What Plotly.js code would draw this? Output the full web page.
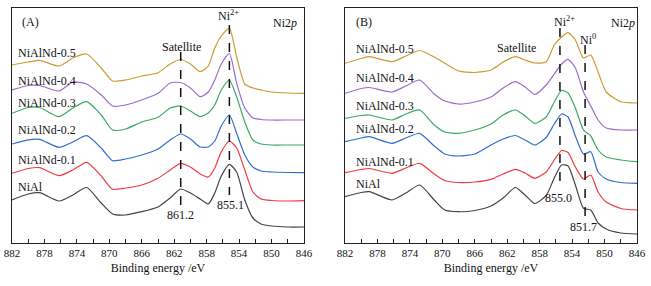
<!DOCTYPE html>
<html><head><meta charset="utf-8">
<script src="https://cdn.plot.ly/plotly-3.0.1.min.js"></script>
<style>body{margin:0;background:#fff}#c{width:651px;height:286px}</style>
</head><body><div id="c"></div>
<script>
// Panel A energies (eV)
const energyA = [882,880,878.6,876.2,874.5,872.8,871,869.6,868,866,864,862.5,861.2,860,858.8,857.8,857,856.2,855.2,854.3,853.3,852.3,851.3,850,848,846];
const A_NiAl   = [43,49,50.3,42,48,55.5,40,29,28,31.3,36,45,54,50,44,39,50,67,78.7,71,43,25,19,17,16,16];
const A_Nd01   = [69.7,74.5,75.3,67.3,73,80.7,67,53.7,55,58,64.7,73,79.7,76,69,66,75,91,102,95,73,51,44,42.5,42,42.3];
const A_Nd02   = [99,103.2,103.7,95.7,101,107.3,95,82.3,84,88,94,103,109,104,96,96,102,117,128,109.7,88,76,72,71,70.5,70.3];
const A_Nd03   = [129.7,135.5,135.5,126.3,135,141.3,128,113,114,121,125.7,135,137,132,126.3,130,138,153,163,146,121,103,99,98,98,98];
const A_Nd04   = [153,157.5,157.5,152,161,159,148,137,138,143,149.7,160,160.5,155,146.3,151,163,179,189.5,159.7,135,125,123.5,123,123,123];
const A_Nd05   = [178,181,182.7,177,185,189,175,162,163,167,170.3,179,183.5,179,171.3,177,195,207,214.7,186,159,155,153,151,150,149.7];

// Panel B energies (eV)
const energyB = [882,880,879,876.2,874.5,872.8,871,869.7,868,866,864,862.5,861,859.8,858.6,857.2,856.2,855.3,854.5,853.6,852.6,851.7,850.8,849.8,848,846];
const B_NiAl   = [46.3,50.5,51.3,43,50,58,43,33,31.3,32.5,37,45,55.5,48,39.5,47.5,65,78,77,58,34.7,33,20,14,10,9];
const B_Nd01   = [70.3,73.5,74.5,69.7,75,79.7,69,62.5,60.5,61,63.7,69,73.7,70,64.7,71,83,92.5,90.5,76,64,68,51,41,34.5,33];
const B_Nd02   = [101.3,105,106.3,99.7,105,109.7,97,89,87,89,98,104,107.5,103,98,105.5,119,129,126,107,89,91.3,71,64,60.5,59.7];
const B_Nd03   = [124.7,127.5,128,123,129,133,118,111,109.7,113,119,128,133,127,119.7,126,141,152.5,150,135,113,107,93,86,83,81.3];
const B_Nd04   = [149.7,154.5,155.5,151,157,163,149,142,139,141,146,155,161.3,156,148.5,158,169,179,183.7,175,151,137,123,115,113,113];
const B_Nd05   = [179.7,184.5,186.3,181.3,187,192.5,186,179.7,172,170.5,173,181,186.3,183,180,181,198,206,210.3,203,185,188,171,151,141.3,140];

const seriesNames = ['NiAl','NiAlNd-0.1','NiAlNd-0.2','NiAlNd-0.3','NiAlNd-0.4','NiAlNd-0.5'];
const colors = ['#444444','#ef3b3f','#2f6fcc','#3aa862','#9a6bc9','#cc9a33'];
const tickVals = [882,878,874,870,866,862,858,854,850,846];

const FONT = 'Liberation Serif, Times New Roman, serif';
const dataA = [A_NiAl,A_Nd01,A_Nd02,A_Nd03,A_Nd04,A_Nd05];
const dataB = [B_NiAl,B_Nd01,B_Nd02,B_Nd03,B_Nd04,B_Nd05];
const traces = [];
dataA.forEach((ys,i)=>traces.push({x:energyA,y:ys,xaxis:'x',yaxis:'y',mode:'lines',name:seriesNames[i],
  line:{color:colors[i],width:1.2,shape:'spline',smoothing:0.6},showlegend:false,hoverinfo:'skip'}));
dataB.forEach((ys,i)=>traces.push({x:energyB,y:ys,xaxis:'x2',yaxis:'y2',mode:'lines',name:seriesNames[i],
  line:{color:colors[i],width:1.2,shape:'spline',smoothing:0.6},showlegend:false,hoverinfo:'skip'}));

function xax(domain, anchor){
  return {domain:domain, anchor:anchor, range:[882,846], showgrid:false, zeroline:false,
    showline:true, mirror:true, linecolor:'#222', linewidth:1,
    ticks:'inside', ticklen:4, tickcolor:'#222', tickvals:tickVals, ticktext:tickVals.map(String),
    minor:{tickvals:[880,876,872,868,864,860,856,852,848], ticks:'inside', ticklen:4, tickcolor:'#222'},
    tickfont:{family:FONT,size:11,color:'#111'},
    title:{text:'Binding energy /eV', font:{family:FONT,size:12,color:'#111'}, standoff:5}};
}
function yax(anchor){
  return {domain:[0,1], anchor:anchor, range:[0,235], showgrid:false, zeroline:false,
    showline:true, mirror:true, linecolor:'#222', linewidth:1, ticks:'', showticklabels:false};
}

const labelYA = [56.3,83,113,140,162,190];
const labelYB = [58.7,81.3,113.7,137,164.7,193.7];
const ann = [];
function txt(xref,yref,x,y,t,xanchor){ ann.push({xref:xref,yref:yref,x:x,y:y,text:t,showarrow:false,
  xanchor:xanchor||'center',yanchor:'middle',font:{family:FONT,size:12,color:'#111'}}); }
seriesNames.forEach((n,i)=>{ txt('x','y',881.5,labelYA[i],n,'left'); txt('x2','y2',880.85,labelYB[i],n,'left'); });
txt('x','y',879.66,221,'(A)'); txt('x2','y2',879.66,221.3,'(B)');
txt('x','y',848.3,220,'Ni2<i>p</i>'); txt('x2','y2',847.7,220,'Ni2<i>p</i>');
txt('x','y',855.25,228,'Ni<sup>2+</sup>'); txt('x2','y2',855.0,221.3,'Ni<sup>2+</sup>');
txt('x2','y2',852.0,203.7,'Ni<sup>0</sup>');
txt('x','y',861.1,196.3,'Satellite'); txt('x2','y2',860.8,194.7,'Satellite');
txt('x','y',861.2,28,'861.2'); txt('x','y',855.1,38,'855.1');
txt('x2','y2',855.7,44.7,'855.0'); txt('x2','y2',852.6,16.3,'851.7');

const dl = {color:'#111',width:1.5,dash:'dash'};
const shapes = [
  {type:'line',xref:'x',yref:'y',x0:861.2,x1:861.2,y0:191,y1:37,line:dl},
  {type:'line',xref:'x',yref:'y',x0:855.2,x1:855.2,y0:218,y1:48,line:dl},
  {type:'line',xref:'x2',yref:'y2',x0:855.5,x1:855.5,y0:215,y1:55,line:dl},
  {type:'line',xref:'x2',yref:'y2',x0:852.4,x1:852.4,y0:198,y1:21,line:dl}
];

const layout = {width:651,height:286,margin:{l:12,r:14,t:8,b:43},paper_bgcolor:'#fff',plot_bgcolor:'#fff',
  xaxis:xax([0,0.4672],'y'), yaxis:yax('x'),
  xaxis2:xax([0.5328,1],'y2'), yaxis2:yax('x2'),
  annotations:ann, shapes:shapes, showlegend:false};
Plotly.newPlot('c',traces,layout,{staticPlot:true,displayModeBar:false});
</script></body></html>
